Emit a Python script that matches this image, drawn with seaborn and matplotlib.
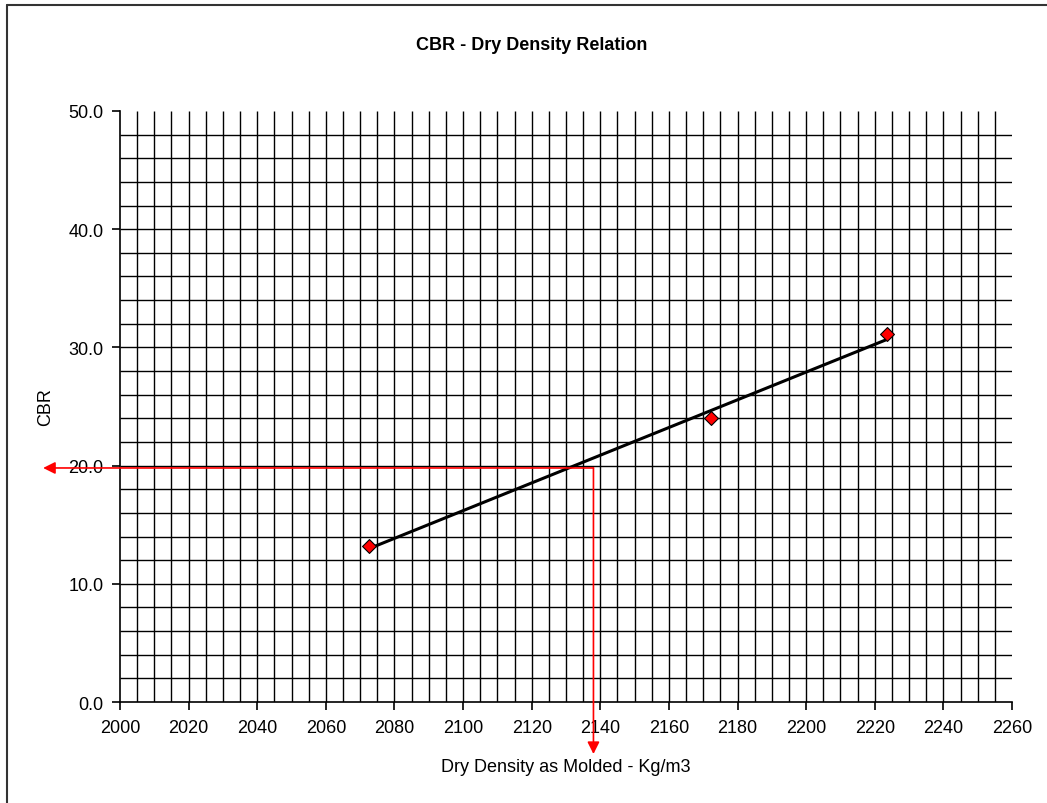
import numpy as np
import pandas as pd
import matplotlib
matplotlib.use("Agg")
import matplotlib.pyplot as plt
from matplotlib.ticker import MultipleLocator, FormatStrFormatter
from matplotlib.lines import Line2D
import seaborn as sns

# data
dry_density = [2072.6, 2172.2, 2223.5]   # Kg/m3
cbr = [13.2, 24.0, 31.1]

# red guide arrows (design CBR -> density)
guide_density = 2138
guide_cbr = 19.8
arrow_left_end = 1977.6
arrow_bottom_end = -4.4

df = pd.DataFrame({"density": dry_density, "cbr": cbr})

sns.set_theme(style="white")
plt.rcParams["font.family"] = ["Liberation Sans", "DejaVu Sans"]

fig = plt.figure(figsize=(10.47, 8.04), dpi=100)
ax = fig.add_axes([0.1146, 0.1256, 0.852, 0.7351])

# grid, like the Excel chart (no line on the top and right edge)
ax.vlines(np.arange(2005, 2260, 5), 0, 50, color="black", lw=1.0, zorder=1)
ax.hlines(np.arange(2, 50, 2), 2000, 2260, color="black", lw=1.0, zorder=1)

# linear trend line + points
sns.regplot(data=df, x="density", y="cbr", ax=ax, ci=None, scatter=False,
            color="black", line_kws={"lw": 2.2, "zorder": 3})
sns.scatterplot(data=df, x="density", y="cbr", ax=ax, marker="D", s=50,
                color="red", edgecolor="black", linewidth=0.8, zorder=4)

# guide arrows
arrow = dict(arrowstyle="-|>", color="red", lw=1.2, mutation_scale=18,
             shrinkA=0, shrinkB=0)
ax.annotate("", xy=(arrow_left_end, guide_cbr), xytext=(guide_density, guide_cbr),
            arrowprops=arrow, annotation_clip=False, zorder=5)
ax.annotate("", xy=(guide_density, arrow_bottom_end), xytext=(guide_density, guide_cbr),
            arrowprops=arrow, annotation_clip=False, zorder=5)

ax.set_xlim(2000, 2260)
ax.set_ylim(0, 50)
ax.xaxis.set_major_locator(MultipleLocator(20))
ax.yaxis.set_major_locator(MultipleLocator(10))
ax.yaxis.set_major_formatter(FormatStrFormatter("%.1f"))
ax.tick_params(axis="both", which="major", direction="out", length=6, width=1.2,
               color="black", labelsize=13, labelcolor="black", pad=6,
               bottom=True, left=True)

for side in ["top", "right"]:
    ax.spines[side].set_visible(False)
for side in ["left", "bottom"]:
    ax.spines[side].set_color("black")
    ax.spines[side].set_linewidth(1.2)

ax.set_xlabel("Dry Density as Molded - Kg/m3", fontsize=13, color="black", labelpad=16)
ax.set_ylabel("CBR", fontsize=13, color="black", labelpad=10)
fig.text(0.508, 0.944, "CBR - Dry Density Relation", ha="center", va="center",
         fontsize=13, fontweight="bold", color="black")

# chart border (only left and top edges show in the reference)
fig.add_artist(Line2D([0.0067, 0.0067], [0, 0.9925], transform=fig.transFigure,
                      color="#333333", lw=1.5))
fig.add_artist(Line2D([0.0067, 1.0], [0.9925, 0.9925], transform=fig.transFigure,
                      color="#333333", lw=1.5))

fig.savefig("out.png", dpi=100, facecolor="white")
